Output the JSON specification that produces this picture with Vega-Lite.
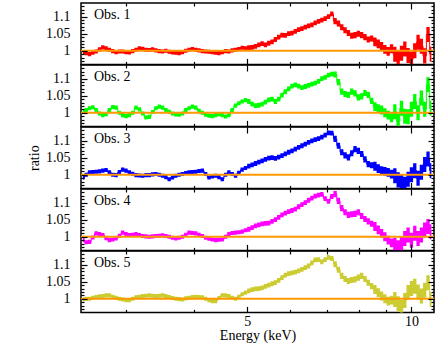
{
"$schema": "https://vega.github.io/schema/vega-lite/v6.json",
"padding": {"left": 26, "top": 1, "right": 3, "bottom": 2},
"spacing": 0,
"bounds": "flush",
"config": {
 "view": {"stroke": "black", "strokeWidth": 1.5},
 "font": "Liberation Serif",
 "axis": {"labelFont": "Liberation Serif", "titleFont": "Liberation Serif", "labelFontSize": 14, "titleFontSize": 14, "labelColor": "black", "titleColor": "black", "titleFontWeight": "normal", "domain": false, "grid": false}
},
"data": {"values": [
{"e":2.500,"d":0.006,"r1":0.996,"r2":1.003,"r3":0.992,"r4":0.990,"r5":0.998},
{"e":2.535,"d":0.006,"r1":0.993,"r2":1.008,"r3":1.000,"r4":0.984,"r5":1.000},
{"e":2.571,"d":0.006,"r1":0.990,"r2":1.013,"r3":1.007,"r4":0.985,"r5":1.000},
{"e":2.607,"d":0.006,"r1":0.994,"r2":1.016,"r3":1.008,"r4":0.998,"r5":1.003},
{"e":2.644,"d":0.006,"r1":0.998,"r2":1.008,"r3":1.009,"r4":1.010,"r5":1.005},
{"e":2.681,"d":0.006,"r1":1.004,"r2":0.998,"r3":1.010,"r4":1.008,"r5":1.007},
{"e":2.719,"d":0.006,"r1":1.010,"r2":0.993,"r3":1.012,"r4":1.005,"r5":1.008},
{"e":2.757,"d":0.006,"r1":1.007,"r2":0.996,"r3":1.014,"r4":0.996,"r5":1.010},
{"e":2.796,"d":0.006,"r1":1.003,"r2":1.008,"r3":1.007,"r4":0.990,"r5":1.010},
{"e":2.836,"d":0.006,"r1":0.999,"r2":1.017,"r3":1.000,"r4":0.992,"r5":1.006},
{"e":2.876,"d":0.006,"r1":0.996,"r2":1.015,"r3":0.999,"r4":0.995,"r5":1.003},
{"e":2.916,"d":0.006,"r1":0.998,"r2":1.000,"r3":1.008,"r4":1.003,"r5":1.000},
{"e":2.957,"d":0.006,"r1":0.998,"r2":0.993,"r3":1.015,"r4":1.012,"r5":0.998},
{"e":2.999,"d":0.006,"r1":0.996,"r2":0.990,"r3":1.012,"r4":1.008,"r5":0.996},
{"e":3.041,"d":0.006,"r1":0.995,"r2":0.993,"r3":1.007,"r4":1.005,"r5":0.996},
{"e":3.084,"d":0.006,"r1":0.999,"r2":1.000,"r3":1.003,"r4":1.006,"r5":1.000},
{"e":3.128,"d":0.006,"r1":1.003,"r2":1.015,"r3":0.999,"r4":1.008,"r5":1.004},
{"e":3.172,"d":0.006,"r1":1.007,"r2":1.010,"r3":0.998,"r4":1.005,"r5":1.006},
{"e":3.217,"d":0.006,"r1":1.006,"r2":0.998,"r3":0.997,"r4":1.002,"r5":1.008},
{"e":3.262,"d":0.006,"r1":1.003,"r2":0.986,"r3":0.999,"r4":1.001,"r5":1.009},
{"e":3.308,"d":0.006,"r1":1.002,"r2":0.988,"r3":0.999,"r4":1.000,"r5":1.010},
{"e":3.355,"d":0.006,"r1":1.004,"r2":1.002,"r3":1.001,"r4":1.001,"r5":1.009},
{"e":3.402,"d":0.006,"r1":1.001,"r2":1.013,"r3":1.002,"r4":1.002,"r5":1.008},
{"e":3.450,"d":0.006,"r1":0.999,"r2":1.018,"r3":1.000,"r4":1.003,"r5":1.009},
{"e":3.499,"d":0.006,"r1":0.998,"r2":1.015,"r3":0.997,"r4":1.004,"r5":1.010},
{"e":3.548,"d":0.006,"r1":1.000,"r2":1.008,"r3":0.993,"r4":1.002,"r5":1.008},
{"e":3.598,"d":0.006,"r1":0.997,"r2":1.003,"r3":0.987,"r4":1.000,"r5":1.005},
{"e":3.649,"d":0.006,"r1":0.995,"r2":0.998,"r3":0.992,"r4":0.997,"r5":1.002},
{"e":3.700,"d":0.006,"r1":0.994,"r2":0.995,"r3":0.997,"r4":0.995,"r5":1.000},
{"e":3.752,"d":0.006,"r1":0.993,"r2":0.994,"r3":1.000,"r4":0.997,"r5":0.999},
{"e":3.805,"d":0.006,"r1":0.996,"r2":0.998,"r3":1.002,"r4":1.000,"r5":0.998},
{"e":3.859,"d":0.006,"r1":1.000,"r2":1.008,"r3":1.005,"r4":1.006,"r5":1.001},
{"e":3.913,"d":0.006,"r1":1.003,"r2":1.013,"r3":1.007,"r4":1.012,"r5":1.003},
{"e":3.968,"d":0.006,"r1":1.005,"r2":1.018,"r3":1.008,"r4":1.011,"r5":1.005},
{"e":4.024,"d":0.006,"r1":1.003,"r2":1.015,"r3":1.009,"r4":1.010,"r5":1.006},
{"e":4.081,"d":0.006,"r1":1.001,"r2":1.006,"r3":1.011,"r4":1.006,"r5":1.005},
{"e":4.139,"d":0.006,"r1":0.999,"r2":1.000,"r3":1.012,"r4":1.002,"r5":1.004},
{"e":4.197,"d":0.006,"r1":0.998,"r2":0.994,"r3":1.002,"r4":0.997,"r5":1.000},
{"e":4.256,"d":0.006,"r1":0.997,"r2":0.991,"r3":0.992,"r4":0.994,"r5":0.996},
{"e":4.316,"d":0.006,"r1":0.996,"r2":0.990,"r3":0.995,"r4":0.992,"r5":0.993},
{"e":4.377,"d":0.006,"r1":0.994,"r2":0.993,"r3":0.997,"r4":0.990,"r5":0.993},
{"e":4.439,"d":0.006,"r1":0.993,"r2":0.996,"r3":0.993,"r4":0.991,"r5":1.002},
{"e":4.501,"d":0.006,"r1":0.996,"r2":0.993,"r3":0.987,"r4":0.992,"r5":1.010},
{"e":4.565,"d":0.006,"r1":0.999,"r2":0.989,"r3":1.000,"r4":1.000,"r5":1.010},
{"e":4.629,"d":0.006,"r1":0.998,"r2":0.993,"r3":1.007,"r4":1.008,"r5":1.008},
{"e":4.694,"d":0.006,"r1":1.001,"r2":1.008,"r3":1.002,"r4":1.011,"r5":1.003},
{"e":4.760,"d":0.006,"r1":1.003,"r2":1.021,"r3":0.997,"r4":1.012,"r5":1.000},
{"e":4.828,"d":0.006,"r1":1.005,"r2":1.028,"r3":1.006,"r4":1.013,"r5":1.006},
{"e":4.896,"d":0.006,"r1":1.009,"r2":1.033,"r3":1.015,"r4":1.015,"r5":1.013},
{"e":4.965,"d":0.006,"r1":1.007,"r2":1.037,"r3":1.020,"r4":1.019,"r5":1.018},
{"e":5.035,"d":0.007,"r1":1.009,"r2":1.033,"r3":1.025,"r4":1.022,"r5":1.023},
{"e":5.106,"d":0.007,"r1":1.010,"r2":1.025,"r3":1.029,"r4":1.027,"r5":1.027},
{"e":5.178,"d":0.007,"r1":1.013,"r2":1.021,"r3":1.033,"r4":1.032,"r5":1.029},
{"e":5.251,"d":0.007,"r1":1.017,"r2":1.022,"r3":1.037,"r4":1.035,"r5":1.030},
{"e":5.325,"d":0.007,"r1":1.021,"r2":1.025,"r3":1.041,"r4":1.038,"r5":1.032},
{"e":5.400,"d":0.007,"r1":1.017,"r2":1.031,"r3":1.045,"r4":1.039,"r5":1.036},
{"e":5.476,"d":0.007,"r1":1.022,"r2":1.038,"r3":1.049,"r4":1.040,"r5":1.040},
{"e":5.554,"d":0.007,"r1":1.026,"r2":1.040,"r3":1.050,"r4":1.045,"r5":1.044},
{"e":5.632,"d":0.007,"r1":1.033,"r2":1.033,"r3":1.048,"r4":1.050,"r5":1.047},
{"e":5.711,"d":0.007,"r1":1.040,"r2":1.040,"r3":1.052,"r4":1.057,"r5":1.054},
{"e":5.792,"d":0.007,"r1":1.046,"r2":1.052,"r3":1.056,"r4":1.064,"r5":1.062},
{"e":5.874,"d":0.007,"r1":1.045,"r2":1.062,"r3":1.061,"r4":1.069,"r5":1.069},
{"e":5.957,"d":0.007,"r1":1.050,"r2":1.070,"r3":1.066,"r4":1.074,"r5":1.074},
{"e":6.041,"d":0.007,"r1":1.052,"r2":1.078,"r3":1.070,"r4":1.077,"r5":1.076},
{"e":6.126,"d":0.007,"r1":1.057,"r2":1.082,"r3":1.075,"r4":1.081,"r5":1.078},
{"e":6.212,"d":0.007,"r1":1.062,"r2":1.078,"r3":1.080,"r4":1.088,"r5":1.082},
{"e":6.300,"d":0.007,"r1":1.065,"r2":1.074,"r3":1.085,"r4":1.094,"r5":1.086},
{"e":6.389,"d":0.007,"r1":1.069,"r2":1.077,"r3":1.090,"r4":1.100,"r5":1.091},
{"e":6.479,"d":0.007,"r1":1.073,"r2":1.080,"r3":1.095,"r4":1.107,"r5":1.096},
{"e":6.570,"d":0.007,"r1":1.076,"r2":1.084,"r3":1.099,"r4":1.113,"r5":1.105},
{"e":6.663,"d":0.007,"r1":1.082,"r2":1.087,"r3":1.103,"r4":1.119,"r5":1.114},
{"e":6.757,"d":0.007,"r1":1.086,"r2":1.092,"r3":1.106,"r4":1.122,"r5":1.115},
{"e":6.852,"d":0.007,"r1":1.090,"r2":1.100,"r3":1.110,"r4":1.124,"r5":1.108},
{"e":6.949,"d":0.007,"r1":1.094,"r2":1.104,"r3":1.116,"r4":1.112,"r5":1.115},
{"e":7.047,"d":0.007,"r1":1.100,"r2":1.110,"r3":1.123,"r4":1.104,"r5":1.121},
{"e":7.146,"d":0.007,"r1":1.108,"r2":1.113,"r3":1.122,"r4":1.118,"r5":1.118},
{"e":7.247,"d":0.009,"r1":1.087,"r2":1.112,"r3":1.105,"r4":1.125,"r5":1.101},
{"e":7.349,"d":0.009,"r1":1.080,"r2":1.090,"r3":1.085,"r4":1.105,"r5":1.085},
{"e":7.453,"d":0.009,"r1":1.069,"r2":1.062,"r3":1.066,"r4":1.084,"r5":1.067},
{"e":7.558,"d":0.009,"r1":1.060,"r2":1.055,"r3":1.057,"r4":1.072,"r5":1.058},
{"e":7.665,"d":0.009,"r1":1.052,"r2":1.052,"r3":1.051,"r4":1.064,"r5":1.052},
{"e":7.773,"d":0.009,"r1":1.044,"r2":1.062,"r3":1.063,"r4":1.066,"r5":1.055},
{"e":7.882,"d":0.009,"r1":1.046,"r2":1.057,"r3":1.075,"r4":1.067,"r5":1.057},
{"e":7.993,"d":0.009,"r1":1.050,"r2":1.045,"r3":1.070,"r4":1.072,"r5":1.062},
{"e":8.106,"d":0.009,"r1":1.046,"r2":1.048,"r3":1.061,"r4":1.061,"r5":1.067},
{"e":8.220,"d":0.009,"r1":1.040,"r2":1.058,"r3":1.045,"r4":1.052,"r5":1.058},
{"e":8.336,"d":0.009,"r1":1.033,"r2":1.052,"r3":1.031,"r4":1.045,"r5":1.047},
{"e":8.454,"d":0.009,"r1":1.036,"r2":1.035,"r3":1.028,"r4":1.038,"r5":1.037},
{"e":8.573,"d":0.013,"r1":1.026,"r2":1.018,"r3":1.025,"r4":1.030,"r5":1.027},
{"e":8.694,"d":0.013,"r1":1.020,"r2":1.012,"r3":1.018,"r4":1.020,"r5":1.018},
{"e":8.817,"d":0.013,"r1":1.013,"r2":1.008,"r3":1.012,"r4":1.010,"r5":1.008},
{"e":8.941,"d":0.013,"r1":1.004,"r2":1.000,"r3":1.010,"r4":1.000,"r5":1.000},
{"e":9.067,"d":0.013,"r1":0.998,"r2":0.993,"r3":1.007,"r4":0.990,"r5":0.993},
{"e":9.195,"d":0.013,"r1":1.006,"r2":0.985,"r3":1.002,"r4":0.982,"r5":0.996},
{"e":9.325,"d":0.022,"r1":0.990,"r2":1.003,"r3":0.997,"r4":0.975,"r5":0.998},
{"e":9.456,"d":0.022,"r1":0.980,"r2":0.975,"r3":0.985,"r4":0.968,"r5":0.985},
{"e":9.590,"d":0.022,"r1":0.993,"r2":1.013,"r3":0.977,"r4":0.980,"r5":0.974},
{"e":9.725,"d":0.022,"r1":1.005,"r2":0.990,"r3":0.972,"r4":0.995,"r5":0.995},
{"e":9.862,"d":0.022,"r1":0.986,"r2":0.988,"r3":0.987,"r4":1.005,"r5":1.018},
{"e":10.001,"d":0.022,"r1":0.975,"r2":1.010,"r3":1.000,"r4":0.990,"r5":1.030},
{"e":10.142,"d":0.022,"r1":1.000,"r2":1.033,"r3":1.012,"r4":1.010,"r5":1.037},
{"e":10.285,"d":0.022,"r1":1.025,"r2":1.000,"r3":0.990,"r4":0.995,"r5":1.020},
{"e":10.430,"d":0.022,"r1":1.013,"r2":1.043,"r3":1.007,"r4":1.005,"r5":1.008},
{"e":10.577,"d":0.022,"r1":0.985,"r2":1.010,"r3":1.030,"r4":1.020,"r5":1.025},
{"e":10.726,"d":0.022,"r1":1.048,"r2":1.082,"r3":1.046,"r4":1.030,"r5":1.047},
{"e":10.877,"d":0.022,"r1":0.990,"r2":1.013,"r3":1.012,"r4":1.015,"r5":0.998}
]},
"vconcat": [
{
 "width": 353, "height": 61.4,
 "resolve": {"axis": {"x": "independent", "y": "independent"}},
 "layer": [
  {"mark": {"type": "errorband", "interpolate": "step", "color": "#ff0000", "opacity": 1, "clip": true},
   "encoding": {
    "x": {"field": "e", "type": "quantitative", "scale": {"type": "log", "domain": [2.48, 11.0], "nice": false}, "axis": {"orient": "bottom", "values": [5,10], "labels": false, "title": null, "ticks": true, "tickColor": "black", "tickWidth": 1.2, "tickSize": -6, "zindex": 2}},
    "y": {"field": "r1", "type": "quantitative", "scale": {"domain": [0.96, 1.14], "nice": false, "zero": false}, "axis": {"orient": "left", "values": [1,1.05,1.1], "format": "~g", "labelPadding": 17, "title": null, "ticks": true, "tickColor": "black", "tickWidth": 1.2, "tickSize": -6, "zindex": 2}},
    "yError": {"field": "d"}}},
  {"mark": {"type": "line", "interpolate": "step", "color": "#ff0000", "strokeWidth": 1, "clip": true},
   "encoding": {
    "x": {"field": "e", "type": "quantitative", "scale": {"type": "log", "domain": [2.48, 11.0], "nice": false}, "axis": {"orient": "top", "values": [5,10], "labels": false, "title": null, "ticks": true, "tickColor": "black", "tickWidth": 1.2, "tickSize": -6, "zindex": 2}},
    "y": {"field": "r1", "type": "quantitative", "scale": {"domain": [0.96, 1.14], "nice": false, "zero": false}, "axis": {"orient": "right", "values": [1,1.05,1.1], "labels": false, "title": null, "ticks": true, "tickColor": "black", "tickWidth": 1.2, "tickSize": -6, "zindex": 2}}}},
  {"data": {"values": [{"a": 2.48, "b": 11.0, "y": 1}]},
   "mark": {"type": "rule", "color": "#ff9900", "strokeWidth": 2},
   "encoding": {
    "x": {"field": "a", "type": "quantitative", "scale": {"type": "log", "domain": [2.48, 11.0], "nice": false}, "axis": {"orient": "top", "values": [3,4,6,7,8,9], "labels": false, "title": null, "ticks": true, "tickColor": "black", "tickWidth": 1.2, "tickSize": -3, "zindex": 2}},
    "x2": {"field": "b"},
    "y": {"field": "y", "type": "quantitative", "scale": {"domain": [0.96, 1.14], "nice": false, "zero": false}, "axis": {"orient": "right", "values": [0.97,0.98,0.99,1.01,1.02,1.03,1.04,1.06,1.07,1.08,1.09,1.11,1.12,1.13], "labels": false, "title": null, "ticks": true, "tickColor": "black", "tickWidth": 1.2, "tickSize": -3, "zindex": 2}}}},
  {"data": {"values": [{"x": 2.62, "y": 1.094, "t": "Obs. 1"}]},
   "mark": {"type": "text", "align": "left", "baseline": "alphabetic", "fontSize": 14, "font": "Liberation Serif", "color": "black"},
   "encoding": {
    "x": {"field": "x", "type": "quantitative", "scale": {"type": "log", "domain": [2.48, 11.0], "nice": false}, "axis": {"orient": "bottom", "values": [3,4,6,7,8,9], "labels": false, "title": null, "ticks": true, "tickColor": "black", "tickWidth": 1.2, "tickSize": -3, "zindex": 2}},
    "y": {"field": "y", "type": "quantitative", "scale": {"domain": [0.96, 1.14], "nice": false, "zero": false}, "axis": {"orient": "left", "values": [0.97,0.98,0.99,1.01,1.02,1.03,1.04,1.06,1.07,1.08,1.09,1.11,1.12,1.13], "labels": false, "title": null, "ticks": true, "tickColor": "black", "tickWidth": 1.2, "tickSize": -3, "zindex": 2}},
    "text": {"field": "t"}}}
 ]
},
{
 "width": 353, "height": 61.4,
 "resolve": {"axis": {"x": "independent", "y": "independent"}},
 "layer": [
  {"mark": {"type": "errorband", "interpolate": "step", "color": "#00ff00", "opacity": 1, "clip": true},
   "encoding": {
    "x": {"field": "e", "type": "quantitative", "scale": {"type": "log", "domain": [2.48, 11.0], "nice": false}, "axis": {"orient": "bottom", "values": [5,10], "labels": false, "title": null, "ticks": true, "tickColor": "black", "tickWidth": 1.2, "tickSize": -6, "zindex": 2}},
    "y": {"field": "r2", "type": "quantitative", "scale": {"domain": [0.96, 1.14], "nice": false, "zero": false}, "axis": {"orient": "left", "values": [1,1.05,1.1], "format": "~g", "labelPadding": 17, "title": null, "ticks": true, "tickColor": "black", "tickWidth": 1.2, "tickSize": -6, "zindex": 2}},
    "yError": {"field": "d"}}},
  {"mark": {"type": "line", "interpolate": "step", "color": "#00ff00", "strokeWidth": 1, "clip": true},
   "encoding": {
    "x": {"field": "e", "type": "quantitative", "scale": {"type": "log", "domain": [2.48, 11.0], "nice": false}, "axis": {"orient": "top", "values": [5,10], "labels": false, "title": null, "ticks": true, "tickColor": "black", "tickWidth": 1.2, "tickSize": -6, "zindex": 2}},
    "y": {"field": "r2", "type": "quantitative", "scale": {"domain": [0.96, 1.14], "nice": false, "zero": false}, "axis": {"orient": "right", "values": [1,1.05,1.1], "labels": false, "title": null, "ticks": true, "tickColor": "black", "tickWidth": 1.2, "tickSize": -6, "zindex": 2}}}},
  {"data": {"values": [{"a": 2.48, "b": 11.0, "y": 1}]},
   "mark": {"type": "rule", "color": "#ff9900", "strokeWidth": 2},
   "encoding": {
    "x": {"field": "a", "type": "quantitative", "scale": {"type": "log", "domain": [2.48, 11.0], "nice": false}, "axis": {"orient": "top", "values": [3,4,6,7,8,9], "labels": false, "title": null, "ticks": true, "tickColor": "black", "tickWidth": 1.2, "tickSize": -3, "zindex": 2}},
    "x2": {"field": "b"},
    "y": {"field": "y", "type": "quantitative", "scale": {"domain": [0.96, 1.14], "nice": false, "zero": false}, "axis": {"orient": "right", "values": [0.97,0.98,0.99,1.01,1.02,1.03,1.04,1.06,1.07,1.08,1.09,1.11,1.12,1.13], "labels": false, "title": null, "ticks": true, "tickColor": "black", "tickWidth": 1.2, "tickSize": -3, "zindex": 2}}}},
  {"data": {"values": [{"x": 2.62, "y": 1.094, "t": "Obs. 2"}]},
   "mark": {"type": "text", "align": "left", "baseline": "alphabetic", "fontSize": 14, "font": "Liberation Serif", "color": "black"},
   "encoding": {
    "x": {"field": "x", "type": "quantitative", "scale": {"type": "log", "domain": [2.48, 11.0], "nice": false}, "axis": {"orient": "bottom", "values": [3,4,6,7,8,9], "labels": false, "title": null, "ticks": true, "tickColor": "black", "tickWidth": 1.2, "tickSize": -3, "zindex": 2}},
    "y": {"field": "y", "type": "quantitative", "scale": {"domain": [0.96, 1.14], "nice": false, "zero": false}, "axis": {"orient": "left", "values": [0.97,0.98,0.99,1.01,1.02,1.03,1.04,1.06,1.07,1.08,1.09,1.11,1.12,1.13], "labels": false, "title": null, "ticks": true, "tickColor": "black", "tickWidth": 1.2, "tickSize": -3, "zindex": 2}},
    "text": {"field": "t"}}}
 ]
},
{
 "width": 353, "height": 61.4,
 "resolve": {"axis": {"x": "independent", "y": "independent"}},
 "layer": [
  {"mark": {"type": "errorband", "interpolate": "step", "color": "#0000ff", "opacity": 1, "clip": true},
   "encoding": {
    "x": {"field": "e", "type": "quantitative", "scale": {"type": "log", "domain": [2.48, 11.0], "nice": false}, "axis": {"orient": "bottom", "values": [5,10], "labels": false, "title": null, "ticks": true, "tickColor": "black", "tickWidth": 1.2, "tickSize": -6, "zindex": 2}},
    "y": {"field": "r3", "type": "quantitative", "scale": {"domain": [0.96, 1.14], "nice": false, "zero": false}, "axis": {"orient": "left", "values": [1,1.05,1.1], "format": "~g", "labelPadding": 17, "title": "ratio", "titlePadding": 4, "ticks": true, "tickColor": "black", "tickWidth": 1.2, "tickSize": -6, "zindex": 2}},
    "yError": {"field": "d"}}},
  {"mark": {"type": "line", "interpolate": "step", "color": "#0000ff", "strokeWidth": 1, "clip": true},
   "encoding": {
    "x": {"field": "e", "type": "quantitative", "scale": {"type": "log", "domain": [2.48, 11.0], "nice": false}, "axis": {"orient": "top", "values": [5,10], "labels": false, "title": null, "ticks": true, "tickColor": "black", "tickWidth": 1.2, "tickSize": -6, "zindex": 2}},
    "y": {"field": "r3", "type": "quantitative", "scale": {"domain": [0.96, 1.14], "nice": false, "zero": false}, "axis": {"orient": "right", "values": [1,1.05,1.1], "labels": false, "title": null, "ticks": true, "tickColor": "black", "tickWidth": 1.2, "tickSize": -6, "zindex": 2}}}},
  {"data": {"values": [{"a": 2.48, "b": 11.0, "y": 1}]},
   "mark": {"type": "rule", "color": "#ff9900", "strokeWidth": 2},
   "encoding": {
    "x": {"field": "a", "type": "quantitative", "scale": {"type": "log", "domain": [2.48, 11.0], "nice": false}, "axis": {"orient": "top", "values": [3,4,6,7,8,9], "labels": false, "title": null, "ticks": true, "tickColor": "black", "tickWidth": 1.2, "tickSize": -3, "zindex": 2}},
    "x2": {"field": "b"},
    "y": {"field": "y", "type": "quantitative", "scale": {"domain": [0.96, 1.14], "nice": false, "zero": false}, "axis": {"orient": "right", "values": [0.97,0.98,0.99,1.01,1.02,1.03,1.04,1.06,1.07,1.08,1.09,1.11,1.12,1.13], "labels": false, "title": null, "ticks": true, "tickColor": "black", "tickWidth": 1.2, "tickSize": -3, "zindex": 2}}}},
  {"data": {"values": [{"x": 2.62, "y": 1.094, "t": "Obs. 3"}]},
   "mark": {"type": "text", "align": "left", "baseline": "alphabetic", "fontSize": 14, "font": "Liberation Serif", "color": "black"},
   "encoding": {
    "x": {"field": "x", "type": "quantitative", "scale": {"type": "log", "domain": [2.48, 11.0], "nice": false}, "axis": {"orient": "bottom", "values": [3,4,6,7,8,9], "labels": false, "title": null, "ticks": true, "tickColor": "black", "tickWidth": 1.2, "tickSize": -3, "zindex": 2}},
    "y": {"field": "y", "type": "quantitative", "scale": {"domain": [0.96, 1.14], "nice": false, "zero": false}, "axis": {"orient": "left", "values": [0.97,0.98,0.99,1.01,1.02,1.03,1.04,1.06,1.07,1.08,1.09,1.11,1.12,1.13], "labels": false, "title": null, "ticks": true, "tickColor": "black", "tickWidth": 1.2, "tickSize": -3, "zindex": 2}},
    "text": {"field": "t"}}}
 ]
},
{
 "width": 353, "height": 61.4,
 "resolve": {"axis": {"x": "independent", "y": "independent"}},
 "layer": [
  {"mark": {"type": "errorband", "interpolate": "step", "color": "#ff00ff", "opacity": 1, "clip": true},
   "encoding": {
    "x": {"field": "e", "type": "quantitative", "scale": {"type": "log", "domain": [2.48, 11.0], "nice": false}, "axis": {"orient": "bottom", "values": [5,10], "labels": false, "title": null, "ticks": true, "tickColor": "black", "tickWidth": 1.2, "tickSize": -6, "zindex": 2}},
    "y": {"field": "r4", "type": "quantitative", "scale": {"domain": [0.96, 1.14], "nice": false, "zero": false}, "axis": {"orient": "left", "values": [1,1.05,1.1], "format": "~g", "labelPadding": 17, "title": null, "ticks": true, "tickColor": "black", "tickWidth": 1.2, "tickSize": -6, "zindex": 2}},
    "yError": {"field": "d"}}},
  {"mark": {"type": "line", "interpolate": "step", "color": "#ff00ff", "strokeWidth": 1, "clip": true},
   "encoding": {
    "x": {"field": "e", "type": "quantitative", "scale": {"type": "log", "domain": [2.48, 11.0], "nice": false}, "axis": {"orient": "top", "values": [5,10], "labels": false, "title": null, "ticks": true, "tickColor": "black", "tickWidth": 1.2, "tickSize": -6, "zindex": 2}},
    "y": {"field": "r4", "type": "quantitative", "scale": {"domain": [0.96, 1.14], "nice": false, "zero": false}, "axis": {"orient": "right", "values": [1,1.05,1.1], "labels": false, "title": null, "ticks": true, "tickColor": "black", "tickWidth": 1.2, "tickSize": -6, "zindex": 2}}}},
  {"data": {"values": [{"a": 2.48, "b": 11.0, "y": 1}]},
   "mark": {"type": "rule", "color": "#ff9900", "strokeWidth": 2},
   "encoding": {
    "x": {"field": "a", "type": "quantitative", "scale": {"type": "log", "domain": [2.48, 11.0], "nice": false}, "axis": {"orient": "top", "values": [3,4,6,7,8,9], "labels": false, "title": null, "ticks": true, "tickColor": "black", "tickWidth": 1.2, "tickSize": -3, "zindex": 2}},
    "x2": {"field": "b"},
    "y": {"field": "y", "type": "quantitative", "scale": {"domain": [0.96, 1.14], "nice": false, "zero": false}, "axis": {"orient": "right", "values": [0.97,0.98,0.99,1.01,1.02,1.03,1.04,1.06,1.07,1.08,1.09,1.11,1.12,1.13], "labels": false, "title": null, "ticks": true, "tickColor": "black", "tickWidth": 1.2, "tickSize": -3, "zindex": 2}}}},
  {"data": {"values": [{"x": 2.62, "y": 1.094, "t": "Obs. 4"}]},
   "mark": {"type": "text", "align": "left", "baseline": "alphabetic", "fontSize": 14, "font": "Liberation Serif", "color": "black"},
   "encoding": {
    "x": {"field": "x", "type": "quantitative", "scale": {"type": "log", "domain": [2.48, 11.0], "nice": false}, "axis": {"orient": "bottom", "values": [3,4,6,7,8,9], "labels": false, "title": null, "ticks": true, "tickColor": "black", "tickWidth": 1.2, "tickSize": -3, "zindex": 2}},
    "y": {"field": "y", "type": "quantitative", "scale": {"domain": [0.96, 1.14], "nice": false, "zero": false}, "axis": {"orient": "left", "values": [0.97,0.98,0.99,1.01,1.02,1.03,1.04,1.06,1.07,1.08,1.09,1.11,1.12,1.13], "labels": false, "title": null, "ticks": true, "tickColor": "black", "tickWidth": 1.2, "tickSize": -3, "zindex": 2}},
    "text": {"field": "t"}}}
 ]
},
{
 "width": 353, "height": 61.4,
 "resolve": {"axis": {"x": "independent", "y": "independent"}},
 "layer": [
  {"mark": {"type": "errorband", "interpolate": "step", "color": "#cccc33", "opacity": 1, "clip": true},
   "encoding": {
    "x": {"field": "e", "type": "quantitative", "scale": {"type": "log", "domain": [2.48, 11.0], "nice": false}, "axis": {"orient": "bottom", "values": [5,10], "format": "~g", "labelPadding": 8, "title": "Energy (keV)", "titlePadding": 0, "ticks": true, "tickColor": "black", "tickWidth": 1.2, "tickSize": -6, "zindex": 2}},
    "y": {"field": "r5", "type": "quantitative", "scale": {"domain": [0.96, 1.14], "nice": false, "zero": false}, "axis": {"orient": "left", "values": [1,1.05,1.1], "format": "~g", "labelPadding": 17, "title": null, "ticks": true, "tickColor": "black", "tickWidth": 1.2, "tickSize": -6, "zindex": 2}},
    "yError": {"field": "d"}}},
  {"mark": {"type": "line", "interpolate": "step", "color": "#cccc33", "strokeWidth": 1, "clip": true},
   "encoding": {
    "x": {"field": "e", "type": "quantitative", "scale": {"type": "log", "domain": [2.48, 11.0], "nice": false}, "axis": {"orient": "top", "values": [5,10], "labels": false, "title": null, "ticks": true, "tickColor": "black", "tickWidth": 1.2, "tickSize": -6, "zindex": 2}},
    "y": {"field": "r5", "type": "quantitative", "scale": {"domain": [0.96, 1.14], "nice": false, "zero": false}, "axis": {"orient": "right", "values": [1,1.05,1.1], "labels": false, "title": null, "ticks": true, "tickColor": "black", "tickWidth": 1.2, "tickSize": -6, "zindex": 2}}}},
  {"data": {"values": [{"a": 2.48, "b": 11.0, "y": 1}]},
   "mark": {"type": "rule", "color": "#ff9900", "strokeWidth": 2},
   "encoding": {
    "x": {"field": "a", "type": "quantitative", "scale": {"type": "log", "domain": [2.48, 11.0], "nice": false}, "axis": {"orient": "top", "values": [3,4,6,7,8,9], "labels": false, "title": null, "ticks": true, "tickColor": "black", "tickWidth": 1.2, "tickSize": -3, "zindex": 2}},
    "x2": {"field": "b"},
    "y": {"field": "y", "type": "quantitative", "scale": {"domain": [0.96, 1.14], "nice": false, "zero": false}, "axis": {"orient": "right", "values": [0.97,0.98,0.99,1.01,1.02,1.03,1.04,1.06,1.07,1.08,1.09,1.11,1.12,1.13], "labels": false, "title": null, "ticks": true, "tickColor": "black", "tickWidth": 1.2, "tickSize": -3, "zindex": 2}}}},
  {"data": {"values": [{"x": 2.62, "y": 1.094, "t": "Obs. 5"}]},
   "mark": {"type": "text", "align": "left", "baseline": "alphabetic", "fontSize": 14, "font": "Liberation Serif", "color": "black"},
   "encoding": {
    "x": {"field": "x", "type": "quantitative", "scale": {"type": "log", "domain": [2.48, 11.0], "nice": false}, "axis": {"orient": "bottom", "values": [3,4,6,7,8,9], "labels": false, "title": null, "ticks": true, "tickColor": "black", "tickWidth": 1.2, "tickSize": -3, "zindex": 2}},
    "y": {"field": "y", "type": "quantitative", "scale": {"domain": [0.96, 1.14], "nice": false, "zero": false}, "axis": {"orient": "left", "values": [0.97,0.98,0.99,1.01,1.02,1.03,1.04,1.06,1.07,1.08,1.09,1.11,1.12,1.13], "labels": false, "title": null, "ticks": true, "tickColor": "black", "tickWidth": 1.2, "tickSize": -3, "zindex": 2}},
    "text": {"field": "t"}}}
 ]
}
]
}
